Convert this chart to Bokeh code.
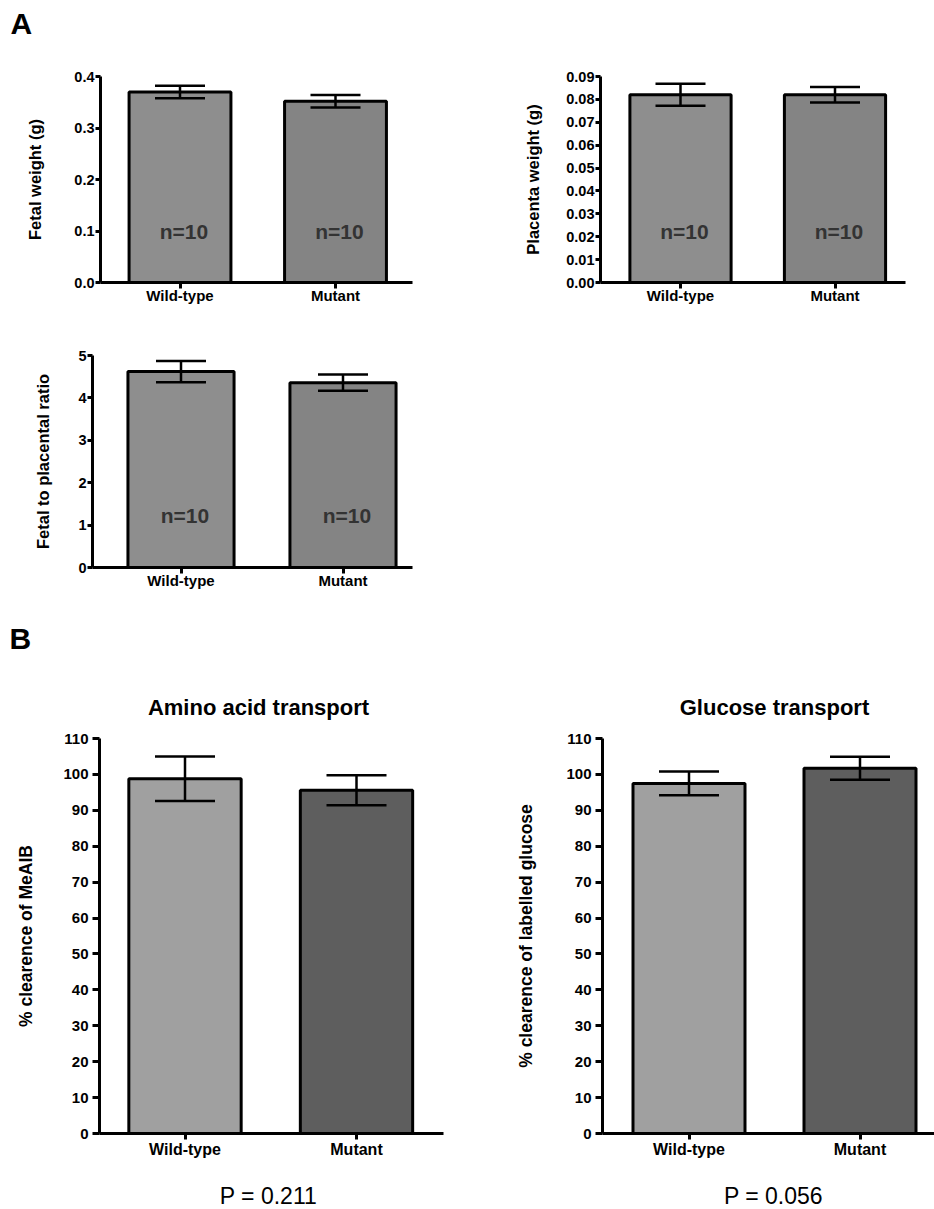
import numpy as np
from bokeh.plotting import figure
from bokeh.models import (Range1d, FixedTicker, Whisker, TeeHead, ColumnDataSource,
                          Label, NumeralTickFormatter)
from bokeh.layouts import column, row
from bokeh.embed import file_html
from bokeh.resources import INLINE
from bokeh.core.properties import value

# ---------------- data ----------------
groups = ["Wild-type", "Mutant"]
n_labels = ["n=10", "n=10"]

fetal_mean = [0.370, 0.352]
fetal_sem = [0.012, 0.012]
placenta_mean = [0.082, 0.082]
placenta_sem = [0.0048, 0.0034]
ratio_mean = [4.62, 4.36]
ratio_sem = [0.25, 0.19]
aa_mean = [98.8, 95.6]
aa_sem = [6.2, 4.2]
glc_mean = [97.5, 101.7]
glc_sem = [3.3, 3.2]

fetal_ticks = [0.0, 0.1, 0.2, 0.3, 0.4]
placenta_ticks = [0.0, 0.01, 0.02, 0.03, 0.04, 0.05, 0.06, 0.07, 0.08, 0.09]
ratio_ticks = [0, 1, 2, 3, 4, 5]
clear_ticks = [0, 10, 20, 30, 40, 50, 60, 70, 80, 90, 100, 110]

n_label_y = {"fetal": 0.1, "placenta": 0.0225, "ratio": 1.23}
p_values = ["P = 0.211", "P = 0.056"]
titles = ["Amino acid transport", "Glucose transport"]
panel_letters = ["A", "B"]

FONT = "Liberation Sans"
W = 934


def make_panel(geom, means, sems, ticks, ymax, ylabel, colors, fmt=None,
               cap=50, tick_size="14.5px", xlab_size="15px", ylab_size="16.5px",
               ylab_standoff=28, tick_standoff=1, tick_out=5, xlab_standoff=-2, nlab=None):
    ox, oy, w, h, fl, fr, ft, fb, c0, c1 = geom
    unit = c1 - c0
    xs = -(c0 - fl) / unit
    xe = 1 + (fr - c1) / unit
    p = figure(width=w, height=h, output_backend="svg", toolbar_location=None,
               x_range=Range1d(xs, xe), y_range=Range1d(0, ymax),
               min_border_left=fl - ox, min_border_right=ox + w - fr,
               min_border_top=ft - oy, min_border_bottom=oy + h - fb,
               outline_line_color=None, background_fill_color="white",
               border_fill_color="white")
    p.xgrid.visible = False
    p.ygrid.visible = False
    xi = np.arange(len(groups))
    src = ColumnDataSource(dict(x=xi, top=means, color=colors,
                                upper=[m + s for m, s in zip(means, sems)],
                                lower=[m - s for m, s in zip(means, sems)]))
    p.vbar(x="x", top="top", bottom=0, width=0.655, source=src,
           fill_color="color", line_color="black", line_width=3)
    wh = Whisker(base="x", upper="upper", lower="lower", source=src,
                 line_width=2.5, line_color="black", level="overlay",
                 upper_head=TeeHead(size=cap, line_width=2.5, line_color="black"),
                 lower_head=TeeHead(size=cap, line_width=2.5, line_color="black"))
    p.add_layout(wh)
    if nlab is not None:
        p.text(x=xi, y=[nlab] * len(groups), text=n_labels,
               text_font=value(FONT), text_font_style="bold",
               text_font_size="21px", text_align="center", text_baseline="middle",
               text_color="#333333", x_offset=4)
    for ax in (p.xaxis[0], p.yaxis[0]):
        ax.axis_line_width = 3
        ax.axis_line_color = "black"
        ax.major_tick_line_width = 3
        ax.major_tick_line_color = "black"
        ax.major_tick_in = 0
        ax.minor_tick_line_color = None
        ax.major_label_text_font = FONT
        ax.major_label_text_font_style = "bold"
        ax.major_label_text_color = "black"
    p.xaxis.ticker = FixedTicker(ticks=list(xi))
    p.xaxis.major_label_overrides = {int(i): g for i, g in zip(xi, groups)}
    p.xaxis.major_tick_out = 6
    p.xaxis.major_label_standoff = xlab_standoff
    p.xaxis.major_label_text_font_size = xlab_size
    p.yaxis.ticker = FixedTicker(ticks=ticks)
    p.yaxis.major_tick_out = tick_out
    p.yaxis.major_label_standoff = tick_standoff
    p.yaxis.major_label_text_font_size = tick_size
    if fmt:
        p.yaxis.formatter = NumeralTickFormatter(format=fmt)
    p.yaxis.axis_label = ylabel
    p.yaxis.axis_label_text_font = FONT
    p.yaxis.axis_label_text_font_style = "bold"
    p.yaxis.axis_label_text_font_size = ylab_size
    p.yaxis.axis_label_text_color = "black"
    p.yaxis.axis_label_standoff = ylab_standoff
    return p


def text_canvas(oy, h):
    """A text-only strip; its ranges are page pixels so labels sit where the reference has them."""
    p = figure(width=W, height=h, output_backend="svg", toolbar_location=None,
               x_range=Range1d(0, W), y_range=Range1d(oy + h, oy),
               x_axis_location=None, y_axis_location=None, min_border=0,
               outline_line_color=None, background_fill_color="white",
               border_fill_color="white")
    p.grid.visible = False
    return p


def add_label(p, x, y, text, size, style="bold", align="left", baseline="middle"):
    p.add_layout(Label(x=x, y=y, text=text, text_font=FONT, text_font_size=size,
                       text_font_style=style, text_align=align, text_baseline=baseline,
                       text_color="black"))


A_colors = ["#8e8e8e", "#848484"]
B_colors = ["#a0a0a0", "#5e5e5e"]

# header strip with panel letter A
hA = text_canvas(0, 44)
add_label(hA, 10, 23, panel_letters[0], "30px")

# geometry: fig origin x,y, width, height, frame left, right, top, bottom, centre WT, centre Mutant
pA1 = make_panel((0, 44, 468, 269, 100, 412, 74, 283, 179.5, 335), fetal_mean, fetal_sem,
                 fetal_ticks, 0.4, "Fetal weight (g)", A_colors, fmt="0.0",
                 nlab=n_label_y["fetal"], ylab_standoff=27)
pA2 = make_panel((468, 44, 466, 269, 600, 905, 76, 282, 680, 834.5), placenta_mean, placenta_sem,
                 placenta_ticks, 0.09, "Placenta weight (g)", A_colors, fmt="0.00",
                 nlab=n_label_y["placenta"], ylab_standoff=21)
pA3 = make_panel((0, 313, 468, 297, 92, 412, 355, 567, 180.5, 342.5), ratio_mean, ratio_sem,
                 ratio_ticks, 5, "Fetal to placental ratio", A_colors,
                 nlab=n_label_y["ratio"], ylab_standoff=23)

# header strip with panel letter B and the two chart titles
hB = text_canvas(610, 112)
add_label(hB, 9, 638, panel_letters[1], "30px")
add_label(hB, 258, 707, titles[0], "22px", align="center")
add_label(hB, 774, 707, titles[1], "22px", align="center")

pB1 = make_panel((0, 722, 478, 443, 99, 443, 738, 1133, 184.5, 356), aa_mean, aa_sem,
                 clear_ticks, 110, "% clearence of MeAIB", B_colors, cap=60,
                 tick_size="15px", xlab_size="16px", ylab_size="17.5px",
                 tick_standoff=4, tick_out=7, xlab_standoff=1, ylab_standoff=24)
pB2 = make_panel((478, 722, 456, 443, 602, 934, 738, 1133, 688.5, 859.5), glc_mean, glc_sem,
                 clear_ticks, 110, "% clearence of labelled glucose", B_colors, cap=60,
                 tick_size="15px", xlab_size="16px", ylab_size="17.5px",
                 tick_standoff=4, tick_out=7, xlab_standoff=1, ylab_standoff=27)

# footer strip with the P values
fB = text_canvas(1165, 44)
add_label(fB, 268, 1195, p_values[0], "23px", style="normal", align="center")
add_label(fB, 773, 1195, p_values[1], "23px", style="normal", align="center")

layout = column(hA, row(pA1, pA2), row(pA3), hB, row(pB1, pB2), fB)
open("out.html", "w").write(file_html(layout, INLINE))
